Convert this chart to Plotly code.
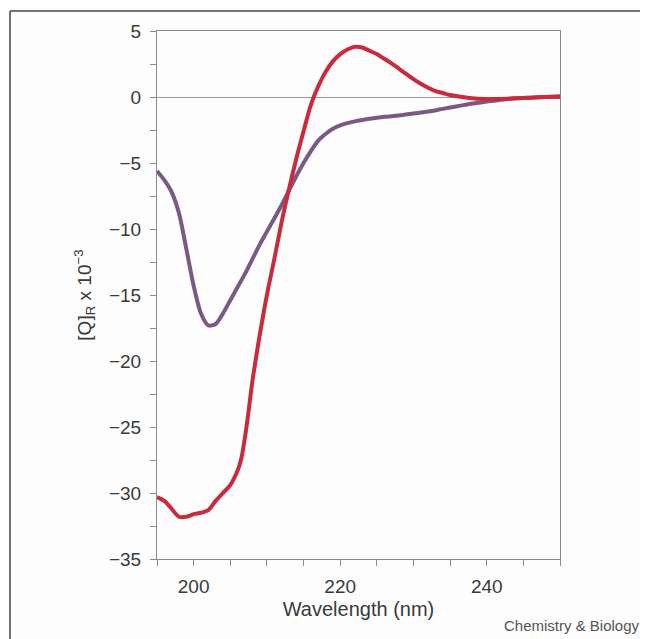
import plotly.graph_objects as go

# ---- data ----
wl_red = [195, 196, 197, 198, 199, 200, 201, 202, 203, 204, 205, 206, 206.5, 207, 207.5, 208,
          208.5, 209, 210, 211, 212, 213, 214, 215, 216, 217, 218, 219, 220, 221, 222, 223,
          224, 225, 226, 227, 228, 229, 230, 231, 232, 233, 234, 235, 236, 238, 240, 242, 244,
          246, 248, 250]
cd_red = [-30.3, -30.6, -31.2, -31.8, -31.8, -31.6, -31.5, -31.3, -30.6, -30.0, -29.4, -28.3,
          -27.4, -25.8, -23.8, -21.6, -19.8, -18.1, -15.0, -12.3, -9.5, -7.0, -4.7, -2.6, -0.6,
          0.8, 1.9, 2.7, 3.25, 3.6, 3.8, 3.75, 3.5, 3.25, 2.9, 2.55, 2.15, 1.75, 1.35, 1.0, 0.7,
          0.45, 0.3, 0.15, 0.05, -0.1, -0.15, -0.15, -0.1, -0.05, 0.0, 0.05]

wl_purple = [195, 196, 197, 198, 199, 200, 201, 202, 203, 204, 205, 206, 207, 208, 209, 210,
             211, 212, 213, 214, 215, 216, 217, 218, 219, 220, 222, 224, 226, 228, 230, 232,
             234, 236, 238, 240, 242, 244, 246, 248, 250]
cd_purple = [-5.6, -6.3, -7.2, -8.8, -11.5, -14.3, -16.4, -17.3, -17.2, -16.4, -15.4, -14.4,
             -13.4, -12.3, -11.2, -10.2, -9.2, -8.2, -7.1, -6.0, -5.0, -4.1, -3.3, -2.8, -2.4,
             -2.15, -1.85, -1.65, -1.5, -1.4, -1.25, -1.1, -0.9, -0.7, -0.5, -0.35, -0.2,
             -0.1, -0.05, 0.0, 0.0]

x_tick_vals = [200, 220, 240]
y_tick_vals = [5, 0, -5, -10, -15, -20, -25, -30, -35]

FONT = "Liberation Sans, Arial, sans-serif"
TXT = "#3a3a3a"
AX = "#8a8a8a"

# page has an 8px body margin; figure is sized to fill the rest
OFF = 8
W, H = 648 - OFF, 639 - OFF
L, T = 157 - OFF, 31 - OFF
PW, PH = 403, 528
R, B = W - L - PW, H - T - PH


def px(xp):
    return (xp - 157) / PW


def py(yp):
    return (559 - yp) / PH


fig = go.Figure()
fig.add_trace(go.Scatter(x=wl_purple, y=cd_purple, mode="lines",
                         line=dict(color="#7a5a85", width=4, shape="spline", smoothing=0.8),
                         showlegend=False, hoverinfo="skip"))
fig.add_trace(go.Scatter(x=wl_red, y=cd_red, mode="lines",
                         line=dict(color="#c92b3d", width=4, shape="spline", smoothing=0.8),
                         showlegend=False, hoverinfo="skip"))

fig.update_layout(
    width=W, height=H,
    margin=dict(l=L, r=R, t=T, b=B, pad=0),
    paper_bgcolor="#fdfdfd", plot_bgcolor="#fdfdfd",
    font=dict(family=FONT, color=TXT, size=18),
    xaxis=dict(range=[195, 250], tickvals=x_tick_vals, ticks="outside", ticklen=6,
               tickcolor=AX, showline=True, linecolor=AX, linewidth=1, mirror=True,
               showgrid=False, zeroline=False, ticklabelstandoff=4,
               minor=dict(dtick=5, tick0=195, ticks="outside", ticklen=6, tickcolor=AX),
               tickfont=dict(size=19, color=TXT),
               title=dict(text="Wavelength (nm)", font=dict(size=20, color=TXT), standoff=6)),
    yaxis=dict(range=[-35, 5], tickvals=y_tick_vals, ticks="outside", ticklen=6,
               tickcolor=AX, showline=True, linecolor=AX, linewidth=1, mirror=True,
               showgrid=False, zeroline=True, zerolinecolor="#9a9a9a", zerolinewidth=1,
               ticklabelstandoff=5,
               minor=dict(dtick=2.5, tick0=0, ticks="outside", ticklen=6, tickcolor=AX),
               tickfont=dict(size=19, color=TXT),
               title=dict(text="[Q]<sub>R</sub> x 10<sup>−3</sup>", font=dict(size=19, color=TXT),
                          standoff=12)),
    annotations=[dict(text="Chemistry &amp; Biology", xref="paper", yref="paper",
                      x=px(642), y=py(625), xanchor="right", yanchor="middle",
                      showarrow=False, font=dict(size=15, color="#555555"))],
    shapes=[
        dict(type="line", xref="paper", yref="paper",
             x0=px(10), x1=px(660), y0=py(11), y1=py(11),
             line=dict(color="#444444", width=1.5)),
        dict(type="line", xref="paper", yref="paper",
             x0=px(10), x1=px(10), y0=py(11), y1=py(660),
             line=dict(color="#444444", width=1.5)),
    ],
)

fig.write_html("out.html")
